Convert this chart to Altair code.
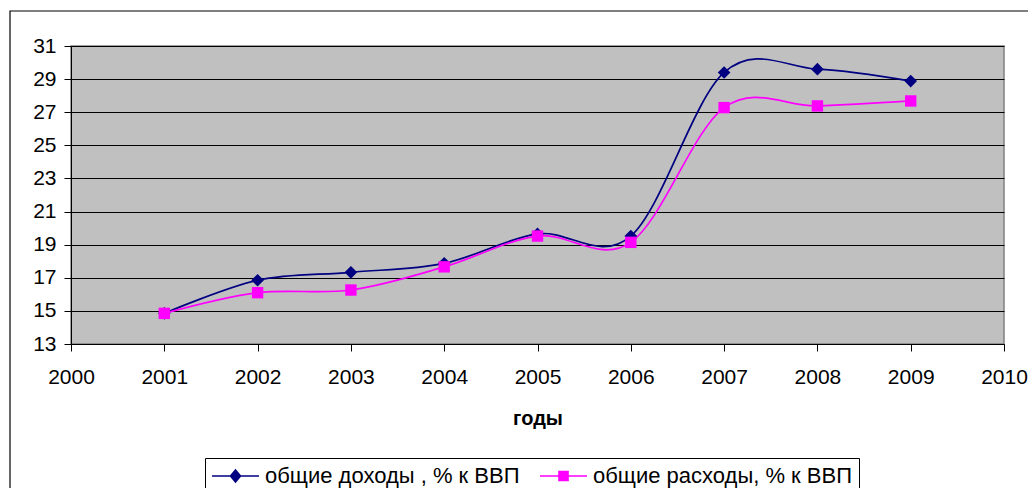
import altair as alt
import pandas as pd

years = [2001, 2002, 2003, 2004, 2005, 2006, 2007, 2008, 2009]
income = [14.85, 16.85, 17.33, 17.87, 19.65, 19.52, 29.4, 29.6, 28.88]
expense = [14.85, 16.1, 16.26, 17.66, 19.52, 19.14, 27.28, 27.38, 27.68]
series_names = ["общие доходы , % к ВВП", "общие расходы, % к ВВП"]
series_colors = ["#000080", "#FF00FF"]
y_ticks = [13, 15, 17, 19, 21, 23, 25, 27, 29, 31]
x_ticks = list(range(2000, 2011))

rows = []
for yr, a, b in zip(years, income, expense):
    rows.append({"year": yr, "value": a, "series": series_names[0]})
    rows.append({"year": yr, "value": b, "series": series_names[1]})
df = pd.DataFrame(rows)

W, H = 933, 298
FONT = "Liberation Sans"

x_enc = alt.X("year:Q", scale=alt.Scale(domain=[2000, 2010], nice=False, zero=False),
              axis=alt.Axis(values=x_ticks, format="d", title="годы", grid=False,
                            labelFontSize=21, labelPadding=15, tickSize=7,
                            labelOverlap=False, labelFlush=False,
                            titleFontSize=20, titleFontWeight="bold", titlePadding=21,
                            domainColor="black", tickColor="black", labelColor="black",
                            titleColor="black"))
y_enc = alt.Y("value:Q", scale=alt.Scale(domain=[13, 31], nice=False, zero=False),
              axis=alt.Axis(values=y_ticks, title=None, grid=True, gridColor="black",
                            gridOpacity=1, gridWidth=1, labelFontSize=21, labelPadding=8,
                            labelOverlap=False, labelFlush=False,
                            tickSize=7, domainColor="black", tickColor="black",
                            labelColor="black"))
leg = alt.Legend(title=None, orient="none", legendX=134, legendY=412,
                 direction="horizontal", strokeColor="black", fillColor="white",
                 padding=7, labelFontSize=22, labelColor="black", labelLimit=0,
                 symbolSize=400, symbolStrokeWidth=1.6, symbolOpacity=1,
                 labelOffset=31, columnPadding=16)
color_enc = alt.Color("series:N", scale=alt.Scale(domain=series_names, range=series_colors),
                      legend=leg)

lines = alt.Chart(df).mark_line(interpolate="cardinal", tension=0, strokeWidth=1.7).encode(
    x=x_enc, y=y_enc, color=color_enc, detail="series:N")

inc_pts = alt.Chart(df).transform_filter(
    alt.datum.series == series_names[0]).mark_point(
    shape="diamond", filled=True, size=160, opacity=1).encode(
    x=x_enc, y=y_enc, color=color_enc)
exp_pts = alt.Chart(df).transform_filter(
    alt.datum.series == series_names[1]).mark_point(
    shape="square", filled=True, size=130, opacity=1).encode(
    x=x_enc, y=y_enc, color=color_enc)

# legend symbols: a line with a marker (nested outlines so it looks solid)
legend_paths = [
    "M-1.1,0H3.6M1.25,-0.6L1.75,0L1.25,0.6L0.75,0ZM1.25,-0.4L1.58,0L1.25,0.4L0.92,0Z"
    "M1.25,-0.2L1.42,0L1.25,0.2L1.08,0ZM1.25,-0.6V0.6",
    "M-1.1,0H3.6M0.8,-0.45H1.7V0.45H0.8ZM0.95,-0.3H1.55V0.3H0.95Z"
    "M1.1,-0.15H1.4V0.15H1.1Z",
]
legend_layer = alt.Chart(df).mark_point(opacity=0).encode(
    x=x_enc, y=y_enc, color=color_enc,
    shape=alt.Shape("series:N", scale=alt.Scale(domain=series_names, range=legend_paths),
                    legend=leg),
)

border = alt.Chart(alt.Data(values=[{}])).mark_rect(
    fill=None, stroke="black", strokeWidth=1.2).encode(
    x=alt.value(-61), x2=alt.value(W + 200), y=alt.value(-35), y2=alt.value(H + 300))

chart = alt.layer(border, lines, inc_pts, exp_pts, legend_layer).properties(
    width=W, height=H,
    autosize=alt.AutoSizeParams(type="none"),
    padding={"left": 63, "top": 38, "right": 24, "bottom": 144},
    background="white",
).configure(font=FONT).configure_view(
    fill="#C0C0C0", stroke="#808080", strokeWidth=1.5
)

chart.save("out.html", embed_options={"renderer": "svg", "actions": False})
